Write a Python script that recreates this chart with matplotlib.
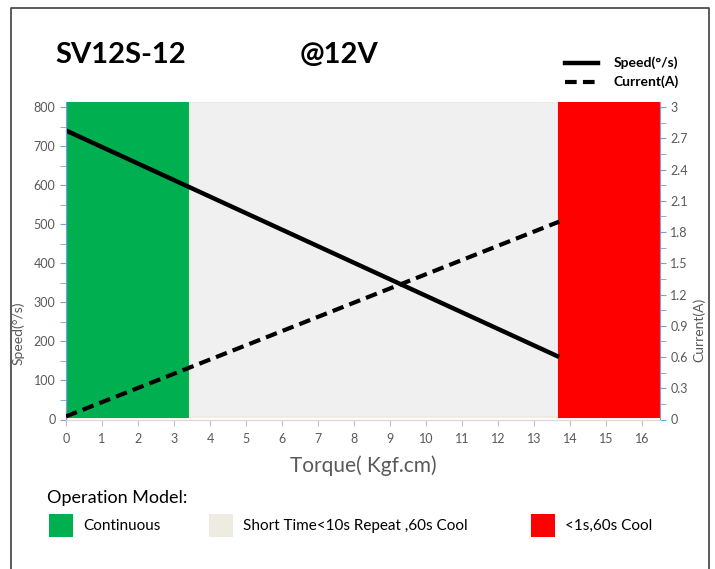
import matplotlib.pyplot as plt
from matplotlib.patches import Rectangle
from matplotlib.lines import Line2D

plt.rcParams['font.family'] = ['Lato', 'DejaVu Sans']

torque = [0, 13.7]
speed = [740, 160]
current = [0.03, 1.9]

zone_start = [0, 3.45, 13.7]
zone_end = [3.45, 13.7, 16.5]
zone_colors = ['#00b050', '#f0f0f0', '#ff0000']
zone_edges = ['#00b050', '#eeece1', '#ff0000']
zone_labels = ['Continuous', 'Short Time<10s Repeat ,60s Cool', '<1s,60s Cool']
legend_colors = ['#00b050', '#eeece1', '#ff0000']

fig = plt.figure(figsize=(7.15, 5.69), dpi=100)
ax = fig.add_axes([66/715, 1-419.5/569, 594/715, 317.5/569])
ax2 = ax.twinx()

for s, e, c, ec in zip(zone_start, zone_end, zone_colors, zone_edges):
    ax.add_patch(Rectangle((s, 6), e - s, 807, facecolor=c, edgecolor=ec, lw=1.5, zorder=1))

ax.plot(torque, speed, color='black', lw=3.2, solid_capstyle='butt', zorder=3)
ax2.plot(torque, current, color='black', lw=3, ls=(0, (2.8, 1.5)), zorder=3)

ax.set_xlim(0, 16.5)
ax.set_ylim(0, 813)
ax2.set_ylim(0, 3 * 813 / 800)
ax.set_xticks(range(17))
ax.set_yticks(range(0, 801, 100))
ax.set_yticks(range(50, 800, 100), minor=True)
ax2.set_yticks([round(0.3 * i, 1) for i in range(11)])
ax2.set_yticklabels(['0', '0.3', '0.6', '0.9', '1.2', '1.5', '1.8', '2.1', '2.4', '2.7', '3'])
ax2.set_yticks([0.15 + 0.3 * i for i in range(10)], minor=True)

tick_blue = '#7a9fdc'
for a in (ax, ax2):
    a.spines['top'].set_visible(False)
    a.spines['bottom'].set_color('#d9d9d9')
    a.spines['left'].set_color(tick_blue)
    a.spines['right'].set_color(tick_blue)
ax.tick_params(axis='x', colors='#bfbfbf', labelcolor='#595959', labelsize=9, length=4, pad=6)
ax.tick_params(axis='y', which='both', colors=tick_blue, labelcolor='#595959', labelsize=9, length=4)
ax2.tick_params(axis='y', which='both', colors=tick_blue, labelcolor='#595959', labelsize=9, length=4)

fig.text(363/715, 1-466/569, 'Torque( Kgf.cm)', ha='center', va='center', fontsize=15, color='#595959')
fig.text(18/715, 1-333/569, 'Speed(°/s)', rotation=90, ha='center', va='center', fontsize=10, color='#595959')
fig.text(699/715, 1-330/569, 'Current(A)', rotation=90, ha='center', va='center', fontsize=10, color='#595959')

fig.text(55/715, 1-55/569, 'SV12S-12', ha='left', va='center', fontsize=21, fontweight='bold')
fig.text(300/715, 1-55/569, '@12V', ha='left', va='center', fontsize=21, fontweight='bold')

fig.add_artist(Line2D([565/715, 598/715], [1-63/569, 1-63/569], color='black', lw=3.2))
fig.add_artist(Line2D([565/715, 598/715], [1-82/569, 1-82/569], color='black', lw=3, ls=(0, (2.8, 1.5))))
fig.text(614/715, 1-63/569, 'Speed(°/s)', ha='left', va='center', fontsize=10, fontweight='bold')
fig.text(614/715, 1-82/569, 'Current(A)', ha='left', va='center', fontsize=10, fontweight='bold')

fig.text(47/715, 1-498/569, 'Operation Model:', ha='left', va='center', fontsize=13)
box_x = [49, 209, 531]
for bx, c, lab in zip(box_x, legend_colors, zone_labels):
    fig.add_artist(Rectangle((bx/715, 1-537/569), 24/715, 23/569, facecolor=c, edgecolor='none'))
    fig.text((bx + 34)/715, 1-526/569, lab, ha='left', va='center', fontsize=11)

# outer frame, open at the bottom
fig.add_artist(Line2D([11/715, 11/715, 709/715, 709/715], [0, 1-8/569, 1-8/569, 0], color='#404040', lw=1.2))

fig.savefig('out.png', dpi=100)
